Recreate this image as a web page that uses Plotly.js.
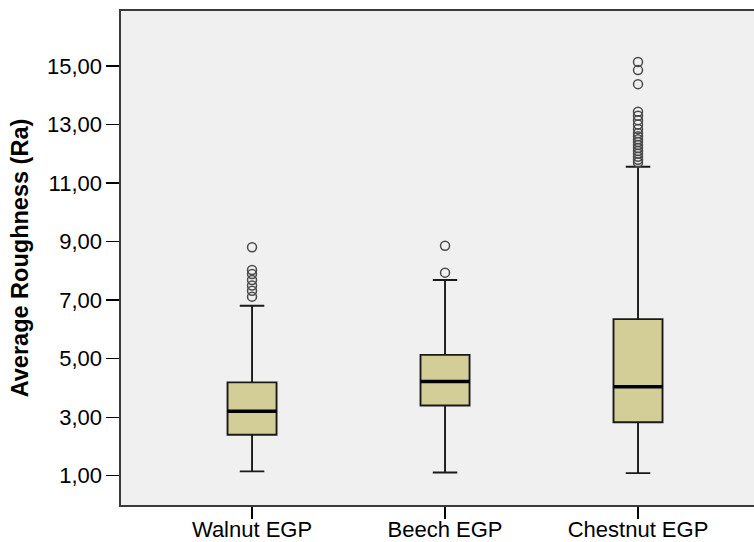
<!DOCTYPE html>
<html>
<head>
<meta charset="utf-8">
<script src="https://cdn.plot.ly/plotly-3.0.1.min.js"></script>
<style>html,body{margin:0;padding:0;background:#fff;}#chart{width:754px;height:542px;}</style>
</head>
<body>
<div id="chart"></div>
<script>
// Data
var categories = ["Walnut EGP", "Beech EGP", "Chestnut EGP"];
var lowerWhisker = [1.15, 1.11, 1.09];
var q1Values = [2.40, 3.40, 2.83];
var medianValues = [3.20, 4.22, 4.04];
var q3Values = [4.19, 5.13, 6.35];
var upperWhisker = [6.81, 7.69, 11.56];
var walnutOutliers = [7.12, 7.32, 7.50, 7.69, 7.89, 8.03, 8.81];
var beechOutliers = [7.94, 8.86];
var chestnutOutliers = [11.70, 11.80, 11.90, 12.00, 12.10, 12.20, 12.30, 12.40, 12.50, 12.60, 12.70, 12.85, 13.00, 13.15, 13.30, 13.44, 14.38, 14.86, 15.14];
var yTickValues = [1, 3, 5, 7, 9, 11, 13, 15];
var yTickLabels = ["1,00", "3,00", "5,00", "7,00", "9,00", "11,00", "13,00", "15,00"];

var outlierGroups = [walnutOutliers, beechOutliers, chestnutOutliers];
var outX = [], outY = [];
outlierGroups.forEach(function (g, i) {
  g.forEach(function (v) { outX.push(categories[i]); outY.push(v); });
});

var boxTrace = {
  type: "box",
  x: categories,
  q1: q1Values,
  median: medianValues,
  q3: q3Values,
  lowerfence: lowerWhisker,
  upperfence: upperWhisker,
  width: 0.254,
  whiskerwidth: 0.5,
  fillcolor: "#D3CE97",
  line: {color: "#1a1a1a", width: 1.9},
  boxpoints: false,
  showlegend: false,
  hoverinfo: "skip"
};

var medianTrace = {
  type: "box",
  x: categories,
  q1: medianValues,
  median: medianValues,
  q3: medianValues,
  lowerfence: medianValues,
  upperfence: medianValues,
  width: 0.254,
  whiskerwidth: 0,
  fillcolor: "rgba(0,0,0,0)",
  line: {color: "#000000", width: 3.5},
  boxpoints: false,
  showlegend: false,
  hoverinfo: "skip"
};

var outlierTrace = {
  type: "scatter",
  mode: "markers",
  x: outX,
  y: outY,
  marker: {symbol: "circle-open", size: 9, color: "#4a4a4a", line: {width: 1.5, color: "#4a4a4a"}},
  showlegend: false,
  hoverinfo: "skip"
};

var layout = {
  width: 754,
  height: 542,
  margin: {l: 121, r: 0, t: 11, b: 37},
  paper_bgcolor: "#ffffff",
  plot_bgcolor: "#F0F0F0",
  font: {family: "Liberation Sans, Arial, sans-serif", color: "#000000"},
  boxmode: "overlay",
  xaxis: {
    type: "category",
    range: [-0.679, 2.601],
    showgrid: false,
    zeroline: false,
    showline: true,
    mirror: true,
    linecolor: "#3a3a3a",
    linewidth: 1.6,
    ticks: "outside",
    ticklen: 12,
    tickwidth: 1.3,
    tickcolor: "#000000",
    ticklabelstandoff: -8,
    tickfont: {size: 22, color: "#000000"}
  },
  yaxis: {
    range: [0.0, 16.88],
    tickvals: yTickValues,
    ticktext: yTickLabels,
    showgrid: false,
    zeroline: false,
    showline: true,
    linecolor: "#3a3a3a",
    linewidth: 1.6,
    ticks: "outside",
    ticklen: 13,
    tickwidth: 1.3,
    tickcolor: "#000000",
    tickfont: {size: 22, color: "#000000"},
    title: {text: "<b>Average Roughness (Ra)</b>", font: {size: 23.5, color: "#000000"}, standoff: 12}
  }
};

Plotly.newPlot("chart", [boxTrace, medianTrace, outlierTrace], layout, {displayModeBar: false, staticPlot: true});
</script>
</body>
</html>
